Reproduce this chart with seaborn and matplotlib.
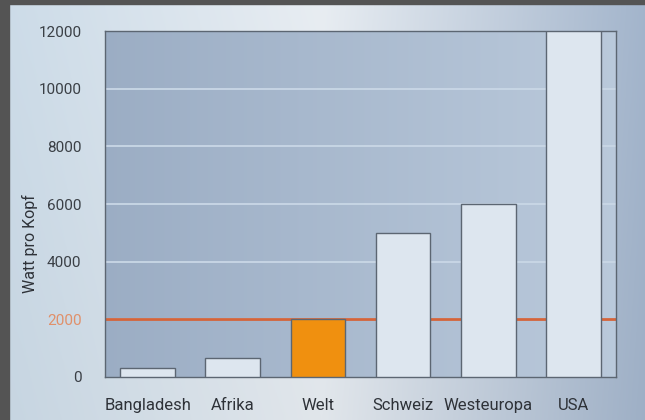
import numpy as np
import pandas as pd
import matplotlib
matplotlib.use("Agg")
import matplotlib.pyplot as plt
import seaborn as sns

categories = ["Bangladesh", "Afrika", "Welt", "Schweiz", "Westeuropa", "USA"]
values = [300, 650, 2000, 5000, 6000, 12000]
yticks = [0, 2000, 4000, 6000, 8000, 10000, 12000]
target = 2000
ylabel = "Watt pro Kopf"

sns.set_theme(style="white")
plt.rcParams["font.family"] = ["Roboto", "DejaVu Sans"]

W, H = 645, 420
fig = plt.figure(figsize=(W / 100, H / 100), dpi=100)

# background gradient for the whole figure
bg = fig.add_axes([0, 0, 1, 1], zorder=-10)
bg.set_axis_off()
xs = np.linspace(0, 1, 300)
ys = np.linspace(0, 1, 200)
X, Y = np.meshgrid(xs, ys)
c_left = np.array([0.80, 0.86, 0.91])
c_mid = np.array([0.91, 0.93, 0.95])
c_right = np.array([0.64, 0.71, 0.80])
t = X
img = np.where(t[..., None] < 0.5,
               c_left + (c_mid - c_left) * (t[..., None] / 0.5),
               c_mid + (c_right - c_mid) * ((t[..., None] - 0.5) / 0.5))
img = img * (0.97 + 0.03 * Y[..., None])
img = np.clip(img, 0, 1)
bg.imshow(img, extent=[0, 1, 0, 1], aspect="auto", origin="lower")
bg.set_xlim(0, 1)
bg.set_ylim(0, 1)
# dark borders
bg.add_patch(plt.Rectangle((0, 0), 9 / W, 1, color="#545454", transform=bg.transAxes, zorder=5))
bg.add_patch(plt.Rectangle((0, 1 - 4 / H), 1, 4 / H, color="#545454", transform=bg.transAxes, zorder=5))

ax = fig.add_axes([105 / W, 43 / H, 511 / W, 346 / H])
ax.patch.set_alpha(0)

df = pd.DataFrame({"Region": categories, "Watt": values})
palette = {c: "#dde6ef" for c in categories}
palette["Welt"] = "#f0900f"
sns.barplot(data=df, x="Region", y="Watt", hue="Region", palette=palette,
            order=categories, width=0.64, edgecolor="#5c6672", linewidth=1.0,
            saturation=1, legend=False, ax=ax, zorder=3)

ax.set_xlim(-0.5, len(categories) - 0.5)
ax.set_ylim(0, 12000)

# axes face gradient
face = np.linspace(0, 1, 200)[None, :, None]
fl = np.array([0.61, 0.68, 0.77])
fr = np.array([0.73, 0.79, 0.86])
fimg = fl + (fr - fl) * face
fimg = np.repeat(fimg, 2, axis=0)
ax.imshow(fimg, extent=[-0.5, len(categories) - 0.5, 0, 12000], aspect="auto",
          origin="lower", zorder=0)

for yv in yticks[1:-1]:
    ax.axhline(yv, color="#c9d7e6", linewidth=1.3, zorder=1)
ax.axhline(target, color="#d4643a", linewidth=2.0, zorder=2)

ax.set_yticks(yticks)
ax.set_yticklabels([str(v) for v in yticks])
ax.tick_params(axis="y", length=0, pad=17, labelsize=11, labelcolor="#3a3f45")
ax.tick_params(axis="x", length=0, pad=15, labelsize=12, labelcolor="#2e3238")
for lbl, v in zip(ax.get_yticklabels(), yticks):
    if v == target:
        lbl.set_color("#e0906a")
ax.set_xlabel("")
ax.set_ylabel(ylabel, fontsize=11.5, color="#2e3238")
ax.yaxis.set_label_coords(30 / 511 - 105 / 511, (377 - 244) / 346, transform=ax.transAxes)
ax.yaxis.label.set_va("center")
ax.yaxis.label.set_ha("center")
for s in ax.spines.values():
    s.set_visible(True)
    s.set_color("#5c6672")
    s.set_linewidth(1.0)
ax.grid(False)

fig.savefig("out.png", dpi=100)
